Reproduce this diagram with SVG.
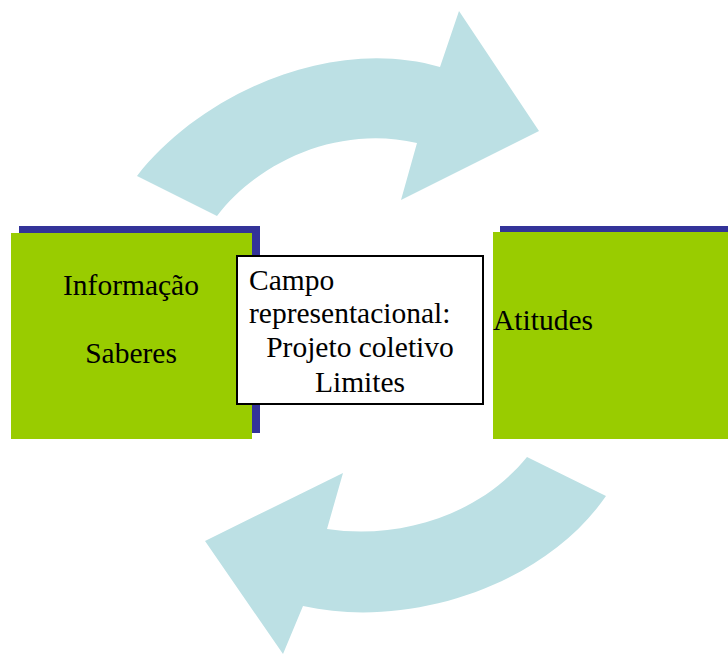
<svg xmlns="http://www.w3.org/2000/svg" width="728" height="655" viewBox="0 0 728 655">
<style>
.arrow{fill:#bce0e4;stroke:none}
.shadow{fill:#333399}
.green{fill:#99cc00}
.t{font-family:"Liberation Serif","Times New Roman",serif;font-size:29.5px;fill:#000}
.mid{text-anchor:middle}
</style>
<rect width="728" height="655" fill="#fff"/>
<g id="connectors">
<path id="arrow-top" class="arrow" d="M137,176 C200,95 330,35 440,67 L459,11 L539,131 L401,200 L417,143 C340,125 260,160 217,216 Z"/>
<path id="arrow-bottom" class="arrow" d="M527,457 L606,496 C545,585 410,630 303,606 L283,654 L205,541 L343,473 L327,529 C400,540 480,515 527,457 Z"/>
</g>
<g id="node-informacao">
<rect class="shadow" x="19" y="226" width="241" height="207"/>
<rect class="green" x="11" y="233" width="241" height="206"/>
<text class="t mid" x="131" y="295">Informação</text>
<text class="t mid" x="131" y="363">Saberes</text>
</g>
<g id="node-atitudes">
<rect class="shadow" x="500" y="226" width="228" height="10"/>
<rect class="green" x="493" y="232" width="235" height="207"/>
<text class="t" x="493" y="330">Atitudes</text>
</g>
<g id="node-campo">
<rect x="237" y="256" width="246" height="148" fill="#fff" stroke="#000" stroke-width="2"/>
<text class="t" x="249" y="290">Campo</text>
<text class="t" x="249" y="323">representacional:</text>
<text class="t mid" x="360" y="357">Projeto coletivo</text>
<text class="t mid" x="360" y="392">Limites</text>
</g>
</svg>
